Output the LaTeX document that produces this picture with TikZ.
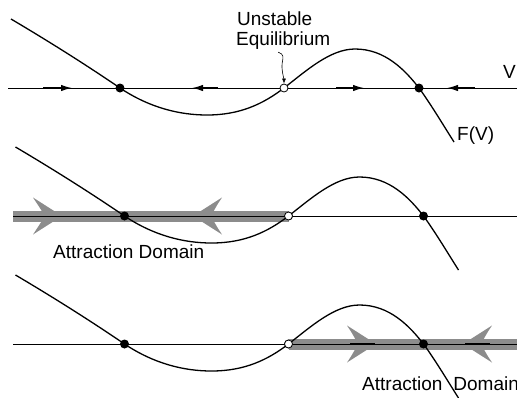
\documentclass[tikz,border=0pt]{standalone}
\usepackage{fontspec}
\setmainfont{Liberation Sans}
\usetikzlibrary{arrows.meta}
\definecolor{bandgray}{RGB}{140,140,140}
\begin{document}
\begin{tikzpicture}[x=1pt,y=-1pt,
  curve/.style={line width=1.3pt,line join=round},
  axis/.style={line width=0.8pt},
  flow/.style={line width=1.4pt,-{Latex[length=11pt,width=6.5pt]}},
  stable/.style={circle,fill=black,inner sep=0pt,minimum size=9pt},
  unstable/.style={circle,draw=black,fill=white,line width=0.8pt,inner sep=0pt,minimum size=8pt},
  lbl/.style={inner sep=0pt,font=\fontsize{19}{20}\selectfont},
  band/.style={line width=11pt,draw=bandgray},
  chev/.style={fill=bandgray},
  pointer/.style={line width=0.6pt,-{Latex[length=5pt,width=4pt]}}]
\useasboundingbox (0,0) rectangle (517,397);
\def\fcurve{(11,-69) .. controls (60,-40) and (95,-17) .. (120,0) .. controls (150,20) and (180,27) .. (207,27) .. controls (240,27) and (263,16) .. (284,0) .. controls (306,-17) and (330,-39) .. (355,-39) .. controls (385,-39) and (405,-18) .. (419,0) .. controls (430,15) and (442,35) .. (454,54)}
% ---------- panel 1 ----------
\begin{scope}[shift={(0,88)}]
  \draw[axis] (8,0) -- (517,0);
  \draw[flow] (43,0) -- (72,0);
  \draw[flow] (218,0) -- (192,0);
  \draw[flow] (336,0) -- (364,0);
  \draw[flow] (475,0) -- (447,0);
  \draw[curve] \fcurve;
  \node[stable] (s1a) at (120,0) {};
  \node[unstable] (u1) at (284,0) {};
  \node[stable] (s1b) at (419,0) {};
\end{scope}
\node[lbl,anchor=base west] (lab1) at (237,25) {Unstable};
\node[lbl,anchor=base west] (lab2) at (236,45) {Equilibrium};
\draw[pointer] ([shift={(-5,3)}]lab2.south) .. controls +(6,2) and +(1,-6) .. ([shift={(-1,14)}]lab2.south) .. controls +(-1,6) and +(0,-4) .. (u1.north);
\node[lbl,anchor=base west] (vl) at (503,78) {V};
\node[lbl,anchor=base west] (fl) at (457,140) {F(V)};
% ---------- panel 2 ----------
\begin{scope}[shift={(0,216)}]
  \node[unstable] (u2) at (288.5,0) {};
  \draw[band] (13,0) -- (u2.center);
  \fill[chev] (62,0) -- (33,-18.5) .. controls (38,-11) .. (45,0) .. controls (38,11) .. (33,18.5) -- cycle;
  \fill[chev] (193,0) -- (222,-18.5) .. controls (217,-11) .. (211,0) .. controls (217,11) .. (222,18.5) -- cycle;
  \draw[axis] (13,0) -- (517,0);
  \node[lbl,anchor=base west] (ad2) at (53,42) {Attraction Domain};
  \begin{scope}[xshift=4.5]
    \draw[curve] \fcurve;
    \node[stable] (s2a) at (120,0) {};
    \node[stable] (s2b) at (419,0) {};
  \end{scope}
  \node[unstable] at (u2) {};
\end{scope}
% ---------- panel 3 ----------
\begin{scope}[shift={(0,344)}]
  \node[unstable] (u3) at (288.5,0) {};
  \draw[band] (u3.center) -- (520,0);
  \fill[chev] (376,0) -- (347,-18.5) .. controls (352,-11) .. (358,0) .. controls (352,11) .. (347,18.5) -- cycle;
  \fill[chev] (463,0) -- (492,-18.5) .. controls (487,-11) .. (481,0) .. controls (487,11) .. (492,18.5) -- cycle;
  \draw[axis] (13,0) -- (517,0);
  \draw[line width=1.4pt] (350,0) -- (375,0);
  \draw[line width=1.4pt] (465,0) -- (490,0);
  \node[lbl,anchor=base west] (ad3) at (362,46) {Attraction\hskip 11pt Domain};
  \begin{scope}[xshift=4.5]
    \draw[curve] \fcurve;
    \node[stable] (s3a) at (120,0) {};
    \node[stable] (s3b) at (419,0) {};
  \end{scope}
  \node[unstable] at (u3) {};
\end{scope}
\end{tikzpicture}
\end{document}
